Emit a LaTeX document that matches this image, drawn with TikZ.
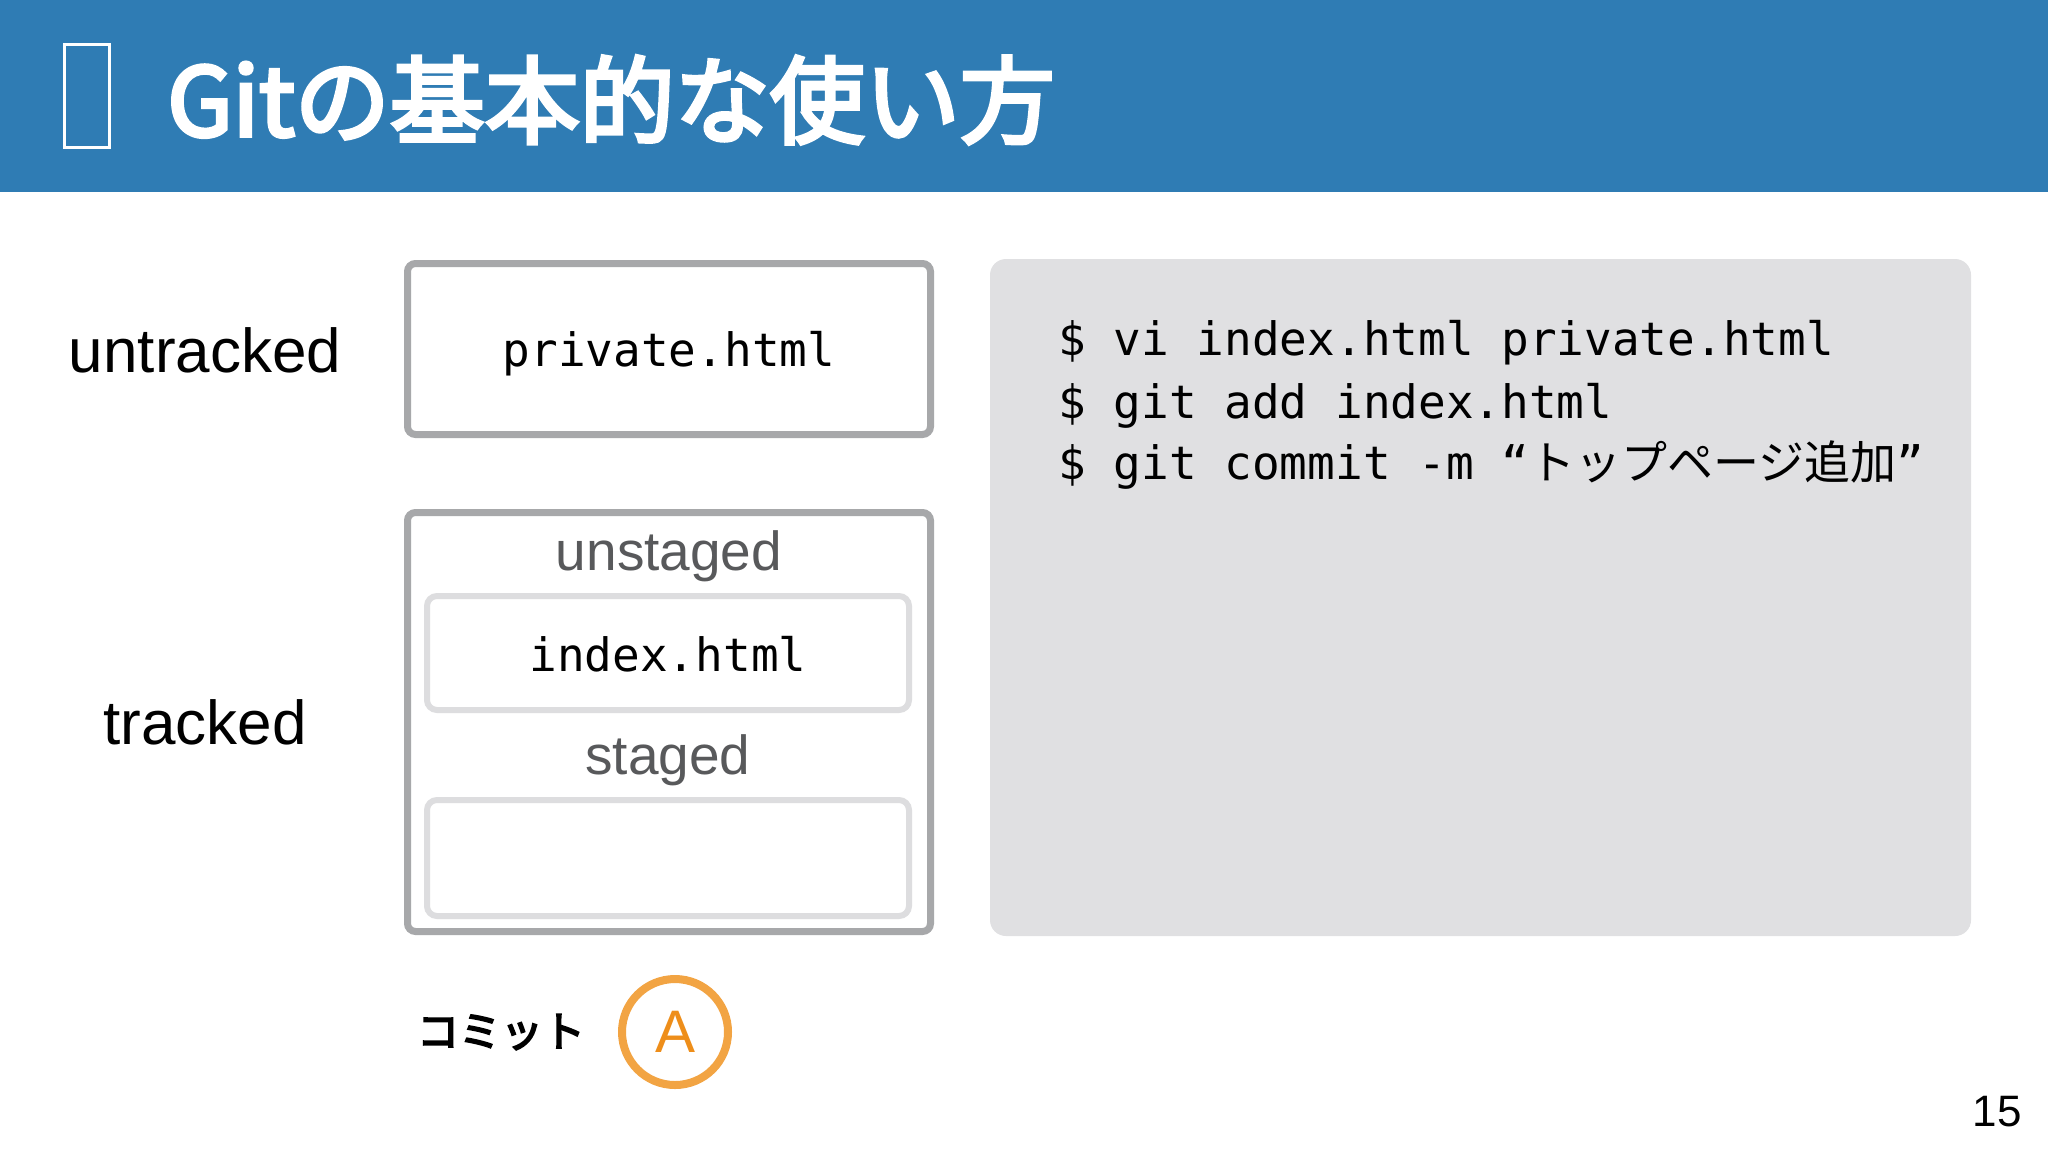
\documentclass[tikz,border=0pt]{standalone}
\usepackage{fontspec}
\setmainfont{Liberation Sans}
\setmonofont{DejaVu Sans Mono}
\newfontfamily\cjk{Noto Sans CJK JP}
\newfontfamily\cjkmed[FakeBold=4]{Noto Sans CJK JP}
\definecolor{hdrblue}{HTML}{2F7CB4}
\definecolor{boxgray}{HTML}{A7A8AA}
\definecolor{innergray}{HTML}{DDDDDF}
\definecolor{panelgray}{HTML}{E0E0E2}
\definecolor{labelgray}{HTML}{58595B}
\definecolor{ringorange}{HTML}{F2A443}
\definecolor{letterorange}{HTML}{EE8E1A}
\tikzset{
  outerbox/.style={draw=boxgray, line width=3.5pt, rounded corners=4pt, fill=white, inner sep=0pt},
  innerbox/.style={draw=innergray, line width=3pt, rounded corners=5pt, fill=white, inner sep=0pt},
  sidelabel/.style={font=\fontsize{31pt}{36pt}\selectfont, text=black, inner sep=0pt},
  sublabel/.style={font=\fontsize{27.5pt}{32pt}\selectfont, text=labelgray, inner sep=0pt},
  filelabel/.style={font=\ttfamily\fontsize{23pt}{28pt}\selectfont, text=black, inner sep=0pt},
  codeline/.style={font=\ttfamily\fontsize{23pt}{28pt}\selectfont, text=black, inner sep=0pt, anchor=base west},
}
\begin{document}
\begin{tikzpicture}[x=0.5pt, y=-0.5pt]
\useasboundingbox (0,0) rectangle (2048,1152);
\fill[white] (0,0) rectangle (2048,1152);
% header
\fill[hdrblue] (0,0) rectangle (2048,192);
\draw[white, line width=1.3pt] (64.5,44.5) rectangle (109.5,147.5);
\node[anchor=base west, text=white, inner sep=0pt, font=\cjkmed\fontsize{47.5pt}{52pt}\selectfont] (title) at (167,136) {Gitの基本的な使い方};
% left labels
\node[sidelabel, anchor=base] (untracked) at (205,372) {untracked};
\node[sidelabel, anchor=base] (tracked) at (205,744) {tracked};
% boxes
\node[outerbox, minimum width=261.5pt, minimum height=85.5pt] (privbox) at (669,349) {};
\node[filelabel] (privtxt) at (669,354) {private.html};
\node[outerbox, minimum width=261.5pt, minimum height=209.5pt] (trackbox) at (669,722) {};
\node[sublabel] (unstaged) at (669,556) {unstaged};
\node[innerbox, minimum width=241pt, minimum height=57pt] (idxbox) at (668,653) {};
\node[filelabel] (idxtxt) at (668,654) {index.html};
\node[sublabel] (staged) at (668,760) {staged};
\node[innerbox, minimum width=241pt, minimum height=58pt] (stgbox) at (668,858) {};
% code panel
\node[fill=panelgray, rounded corners=8pt, minimum width=490.5pt, minimum height=338.5pt, inner sep=0pt] (panel) at (1480.5,597.5) {};
\node[codeline] (line1) at (1058,355) {\$ vi index.html private.html};
\node[codeline] (line2) at (1058,418) {\$ git add index.html};
\node[codeline] (line3) at (1058,479) {\$ git commit -m “{\cjk トップページ追加}”};
% commit
\node[inner sep=0pt, font=\cjkmed\fontsize{21pt}{25pt}\selectfont] (commit) at (501,1032) {コミット};
\node[circle, draw=ringorange, line width=4pt, minimum size=53pt, inner sep=0pt, text=letterorange, font=\fontsize{30pt}{34pt}\selectfont] (ringA) at (675,1032) {A};
% page number
\node[anchor=base east, inner sep=0pt, font=\fontsize{22pt}{26pt}\selectfont] (pagenum) at (2022,1126) {15};
\end{tikzpicture}
\end{document}
